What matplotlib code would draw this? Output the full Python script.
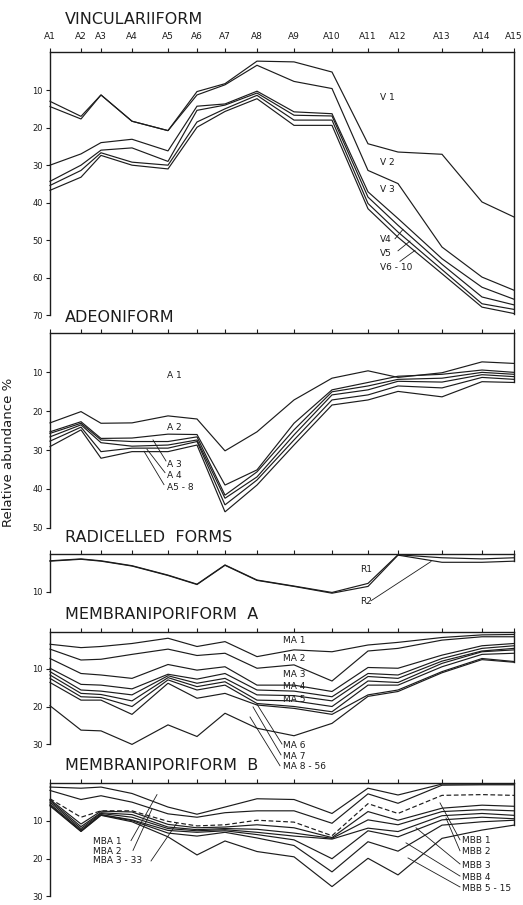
import matplotlib
matplotlib.use("Agg")
import matplotlib.pyplot as plt

# Stations along the transect and their relative positions
stations = ["A1", "A2", "A3", "A4", "A5", "A6", "A7", "A8", "A9", "A10",
            "A11", "A12", "A13", "A14", "A15"]
station_pos = [0, 31, 51, 82, 118, 147, 175, 207, 244, 282, 318, 348, 392, 432, 464]

# Vinculariiform (cumulative relative abundance, %)
vinc_1 = [13.0, 17.0, 11.3, 18.3, 20.8, 10.4, 8.3, 2.3, 2.5, 5.2, 24.3, 26.5, 27.1, 39.8, 43.8]
vinc_2 = [14.4, 17.7, 11.3, 18.3, 20.8, 11.3, 8.6, 3.4, 7.7, 9.6, 31.4, 34.9, 51.8, 59.8, 63.3]
vinc_3 = [30.0, 27.0, 24.0, 23.1, 26.2, 14.3, 13.7, 10.3, 15.8, 16.3, 37.1, 44.2, 54.9, 62.5, 65.7]
vinc_4 = [34.3, 30.0, 26.0, 25.4, 29.0, 15.4, 14.0, 10.8, 16.7, 16.9, 38.5, 46.0, 56.4, 65.1, 67.2]
vinc_5 = [35.4, 31.4, 26.7, 29.2, 30.0, 18.5, 15.0, 11.4, 18.0, 18.0, 40.2, 47.8, 57.8, 66.9, 68.4]
vinc_6 = [36.7, 33.2, 27.4, 30.0, 31.0, 19.9, 15.7, 12.3, 19.4, 19.4, 41.6, 49.2, 58.9, 67.8, 69.5]

# Adeoniform
adeo_1 = [23.0, 20.1, 23.1, 23.0, 21.2, 22.0, 30.2, 25.3, 17.1, 11.5, 9.6, 11.3, 10.1, 7.3, 7.7]
adeo_2 = [25.3, 22.7, 27.0, 26.9, 25.9, 26.0, 39.0, 35.1, 23.1, 14.5, 12.6, 11.0, 10.5, 9.4, 10.0]
adeo_3 = [25.7, 23.1, 27.4, 27.8, 27.8, 26.6, 41.6, 35.6, 24.8, 15.0, 13.5, 11.8, 11.5, 10.0, 10.5]
adeo_4 = [26.6, 23.5, 28.1, 29.0, 28.7, 27.4, 42.4, 36.9, 26.1, 15.8, 14.5, 12.3, 12.5, 10.6, 11.1]
adeo_5 = [27.7, 24.1, 30.4, 29.5, 29.5, 27.8, 44.1, 37.7, 27.4, 17.1, 15.8, 13.5, 14.0, 11.3, 11.8]
adeo_6 = [29.1, 24.8, 32.1, 30.4, 30.4, 28.7, 45.9, 39.0, 28.7, 18.4, 17.1, 14.9, 16.3, 12.4, 12.6]

# Radicelled forms
radi_1 = [1.8, 1.3, 1.8, 3.1, 5.6, 8.0, 2.9, 6.9, 8.5, 10.2, 7.8, 0.2, 1.0, 1.3, 1.0]
radi_2 = [1.9, 1.4, 1.9, 3.2, 5.7, 8.1, 3.0, 7.0, 8.6, 10.4, 8.6, 0.3, 2.2, 2.2, 1.9]

# Membraniporiform A
mema_1 = [3.4, 4.3, 4.0, 3.2, 1.8, 4.0, 2.7, 6.7, 4.9, 5.4, 3.6, 2.9, 1.6, 0.9, 0.8]
mema_2 = [4.7, 7.6, 7.4, 6.1, 4.7, 6.4, 5.8, 9.8, 8.9, 13.2, 5.2, 4.5, 2.3, 1.4, 1.4]
mema_3 = [7.2, 11.2, 11.6, 12.5, 8.8, 10.3, 9.4, 14.3, 14.3, 16.0, 9.6, 9.8, 6.3, 3.8, 3.2]
mema_4 = [9.8, 14.1, 14.3, 15.3, 11.4, 12.7, 11.2, 15.6, 15.9, 17.4, 11.2, 11.6, 7.2, 4.5, 3.8]
mema_5 = [10.7, 15.6, 15.9, 16.9, 11.8, 13.8, 12.5, 16.9, 17.1, 18.5, 12.0, 12.5, 7.9, 5.2, 4.5]
mema_6 = [11.6, 16.5, 16.8, 18.5, 12.3, 14.7, 13.4, 18.3, 18.5, 20.0, 13.2, 13.6, 8.5, 5.4, 4.9]
mema_7 = [12.5, 17.4, 17.6, 20.0, 12.9, 15.6, 14.3, 19.2, 20.0, 21.4, 14.3, 14.3, 9.4, 6.1, 5.8]
mema_8 = [13.6, 18.3, 18.3, 22.1, 13.8, 17.8, 16.5, 19.6, 20.5, 22.1, 16.9, 15.6, 10.7, 7.2, 8.0]
mema_9 = [19.8, 26.3, 26.5, 30.1, 24.9, 28.0, 21.8, 25.8, 27.8, 24.5, 17.3, 16.0, 11.0, 7.5, 8.2]

# Membraniporiform B
memb_1 = [1.0, 1.3, 1.0, 2.7, 6.3, 8.2, 6.3, 4.1, 4.3, 8.0, 1.3, 3.1, 0.2, 0.2, 0.2]
memb_2 = [1.9, 4.3, 3.3, 5.0, 8.1, 9.0, 7.8, 7.3, 7.3, 10.6, 2.8, 5.3, 0.5, 0.4, 0.4]
memb_3 = [4.1, 9.0, 7.3, 7.3, 10.1, 11.3, 11.0, 9.8, 10.3, 13.9, 5.4, 8.0, 3.2, 3.0, 3.2]
memb_4 = [4.3, 10.8, 7.4, 7.6, 10.9, 11.8, 11.6, 11.0, 11.8, 14.4, 7.5, 9.8, 6.6, 5.8, 6.1]
memb_5 = [4.6, 11.5, 7.8, 8.3, 11.6, 12.3, 12.0, 12.2, 13.2, 14.6, 9.7, 11.0, 7.5, 7.0, 7.3]
memb_6 = [5.0, 12.0, 8.0, 9.0, 12.0, 12.6, 12.3, 13.0, 14.0, 14.8, 11.9, 12.8, 8.6, 8.0, 8.5]
memb_7 = [5.5, 12.4, 8.3, 9.7, 12.5, 13.0, 12.6, 13.6, 15.0, 20.0, 12.6, 14.2, 9.7, 9.0, 9.4]
memb_8 = [5.8, 12.7, 8.4, 9.9, 13.2, 14.0, 13.0, 14.5, 16.5, 23.5, 15.5, 18.0, 11.1, 10.2, 9.8]
memb_9 = [6.0, 12.8, 8.5, 10.2, 14.2, 19.0, 15.3, 18.1, 19.5, 27.4, 19.9, 24.3, 14.6, 12.4, 11.1]

INK = "#1c1c1c"
W, H = 523, 905
fig = plt.figure(figsize=(W / 100, H / 100), dpi=100)
fig.patch.set_facecolor("white")


def make_panel(top_px, bottom_px, ymax, show_station_labels=False):
    ax = fig.add_axes([50 / W, 1 - bottom_px / H, 464 / W, (bottom_px - top_px) / H])
    ax.set_xlim(station_pos[0], station_pos[-1])
    ax.set_ylim(ymax, 0)
    ax.patch.set_alpha(0)
    for side in ("bottom", "right"):
        ax.spines[side].set_visible(False)
    for side in ("top", "left"):
        ax.spines[side].set_color(INK)
        ax.spines[side].set_linewidth(1.0)
    ax.xaxis.tick_top()
    ax.set_xticks(station_pos)
    if show_station_labels:
        ax.set_xticklabels(stations)
    else:
        ax.set_xticklabels([])
    ax.tick_params(axis="x", which="both", top=True, bottom=False, direction="out",
                   length=3, width=0.8, color=INK, labelsize=6.5, pad=5, labelcolor=INK)
    ax.set_yticks(list(range(10, ymax + 1, 10)))
    ax.tick_params(axis="y", direction="out", length=3, width=0.8, color=INK,
                   labelsize=6, pad=2, labelcolor=INK)
    return ax


def draw_lines(ax, series, styles=None):
    for i, vals in enumerate(series):
        ls = "-"
        if styles is not None:
            ls = styles[i]
        line, = ax.plot(station_pos, vals, color=INK, lw=0.85, ls=ls, clip_on=False,
                        solid_joinstyle="miter")
        if ls == "--":
            line.set_dashes((4, 2.2))
    # closing line on the right edge, down to the lowest curve
    ax.plot([station_pos[-1]] * 2, [0, max(v[-1] for v in series)], color=INK,
            lw=1.0, clip_on=False)


def leader(ax, start, end):
    ax.plot([start[0], end[0]], [start[1], end[1]], color=INK, lw=0.6, clip_on=False)


def label(ax, x, y, s, size=6.5):
    ax.text(x, y, s, fontsize=size, color=INK, ha="left", va="center")


# --- Vinculariiform ---
ax1 = make_panel(52.5, 315.4, 70, show_station_labels=True)
draw_lines(ax1, [vinc_1, vinc_2, vinc_3, vinc_4, vinc_5, vinc_6])
label(ax1, 330, 12.1, "V 1")
label(ax1, 330, 29.4, "V 2")
label(ax1, 330, 36.4, "V 3")
label(ax1, 330, 49.9, "V4")
label(ax1, 330, 53.5, "V5")
label(ax1, 330, 57.3, "V6 - 10")
leader(ax1, (345, 49.6), (353, 47.1))
leader(ax1, (348, 52.8), (360, 50.2))
leader(ax1, (350, 55.6), (365, 52.7))

# --- Adeoniform ---
ax2 = make_panel(333.5, 527.8, 50)
draw_lines(ax2, [adeo_1, adeo_2, adeo_3, adeo_4, adeo_5, adeo_6])
label(ax2, 117, 10.7, "A 1")
label(ax2, 117, 24.3, "A 2")
label(ax2, 117, 33.6, "A 3")
label(ax2, 117, 36.6, "A 4")
label(ax2, 117, 39.7, "A5 - 8")
leader(ax2, (116, 32.8), (103, 27.4))
leader(ax2, (115, 35.8), (97, 29.8))
leader(ax2, (114, 38.9), (94, 30.3))

# --- Radicelled forms ---
ax3 = make_panel(554, 591.7, 10)
draw_lines(ax3, [radi_1, radi_2])
label(ax3, 310, 4.2, "R1")
label(ax3, 310, 12.7, "R2")
leader(ax3, (321, 12.4), (381, 2.0))

# --- Membraniporiform A ---
ax4 = make_panel(631.5, 744.0, 30)
draw_lines(ax4, [mema_1, mema_2, mema_3, mema_4, mema_5, mema_6, mema_7, mema_8, mema_9])
label(ax4, 233, 2.5, "MA 1")
label(ax4, 233, 7.1, "MA 2")
label(ax4, 233, 11.4, "MA 3")
label(ax4, 233, 14.7, "MA 4")
label(ax4, 233, 18.0, "MA 5")
label(ax4, 233, 30.4, "MA 6")
label(ax4, 233, 33.3, "MA 7")
label(ax4, 233, 36.1, "MA 8 - 56")
leader(ax4, (232, 30.0), (207, 19.4))
leader(ax4, (231, 32.9), (203, 20.1))
leader(ax4, (230, 35.8), (200, 22.8))

# --- Membraniporiform B ---
ax5 = make_panel(783.3, 896.4, 30)
draw_lines(ax5, [memb_1, memb_2, memb_3, memb_4, memb_5, memb_6, memb_7, memb_8, memb_9],
           styles=["-", "-", "--", "-", "-", "-", "-", "-", "-"])
label(ax5, 43, 15.4, "MBA 1")
label(ax5, 43, 18.0, "MBA 2")
label(ax5, 43, 20.6, "MBA 3 - 33")
leader(ax5, (81, 15.2), (107, 3.0))
leader(ax5, (83, 17.8), (102, 6.8))
leader(ax5, (101, 20.6), (127, 10.5))
label(ax5, 412, 15.2, "MBB 1")
label(ax5, 412, 18.1, "MBB 2")
label(ax5, 412, 21.7, "MBB 3")
label(ax5, 412, 24.9, "MBB 4")
label(ax5, 412, 27.8, "MBB 5 - 15")
leader(ax5, (410, 15.0), (390, 5.2))
leader(ax5, (410, 17.9), (396, 9.2))
leader(ax5, (410, 21.4), (366, 11.8))
leader(ax5, (410, 24.6), (356, 15.8))
leader(ax5, (410, 27.5), (358, 19.8))

# Panel headings
heading_kw = dict(fontsize=11.5, color=INK, ha="left", va="center")
fig.text(65 / W, 1 - 19 / H, "VINCULARIIFORM", **heading_kw)
fig.text(65 / W, 1 - 317 / H, "ADEONIFORM", **heading_kw)
fig.text(65 / W, 1 - 538 / H, "RADICELLED  FORMS", **heading_kw)
fig.text(65 / W, 1 - 614 / H, "MEMBRANIPORIFORM  A", **heading_kw)
fig.text(65 / W, 1 - 765 / H, "MEMBRANIPORIFORM  B", **heading_kw)

fig.text(9 / W, 1 - 452 / H, "Relative abundance %", rotation=90, fontsize=9.5,
         color=INK, ha="center", va="center")

fig.savefig("out.png", dpi=100, facecolor="white")
